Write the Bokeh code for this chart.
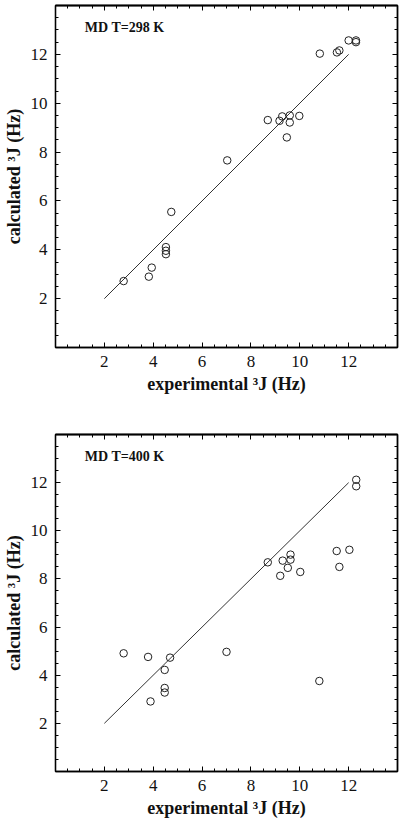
import numpy as np
from bokeh.plotting import figure
from bokeh.layouts import column
from bokeh.models import FixedTicker, LinearAxis, Label, Range1d
from bokeh.embed import file_html
from bokeh.resources import INLINE

# ---- data ----
exp_298 = [2.79, 3.82, 3.94, 4.52, 4.52, 4.52, 4.74, 7.03, 8.69, 9.17, 9.28,
           9.47, 9.59, 9.59, 9.98, 10.82, 11.52, 11.62, 12.0, 12.3, 12.3]
calc_298 = [2.72, 2.90, 3.27, 4.11, 3.96, 3.82, 5.55, 7.66, 9.31, 9.28, 9.46,
            8.60, 9.50, 9.21, 9.48, 12.03, 12.08, 12.16, 12.57, 12.57, 12.50]

exp_400 = [2.79, 3.79, 3.89, 4.47, 4.47, 4.47, 4.69, 7.0, 8.69, 9.20, 9.30,
           9.51, 9.62, 9.62, 10.02, 10.80, 11.51, 11.62, 12.03, 12.31, 12.31]
calc_400 = [4.91, 4.76, 2.91, 4.22, 3.47, 3.28, 4.73, 4.97, 8.69, 8.13, 8.76,
            8.46, 9.01, 8.80, 8.29, 3.76, 9.16, 8.50, 9.21, 12.12, 11.85]

line_x = [2, 12]
line_y = [2, 12]

major_ticks = [2, 4, 6, 8, 10, 12]
minor_ticks = [i * 0.5 for i in range(1, 28)]

titles = ["MD T=298 K", "MD T=400 K"]
xlabel = "experimental \u00b3J (Hz)"
ylabel = "calculated \u00b3J (Hz)"

FONT = "Liberation Serif"


def style_ticks(ax):
    ax.major_tick_in = 5
    ax.major_tick_out = 0
    ax.minor_tick_in = 3
    ax.minor_tick_out = 0
    ax.axis_line_color = "black"
    ax.axis_line_width = 1.3
    ax.major_tick_line_color = "black"
    ax.minor_tick_line_color = "black"
    ax.major_tick_line_width = 1
    ax.minor_tick_line_width = 1


def style_main_axis(ax):
    ax.ticker = FixedTicker(ticks=major_ticks, minor_ticks=minor_ticks)
    style_ticks(ax)
    ax.major_label_text_font = FONT
    ax.major_label_text_font_size = "17px"
    ax.major_label_text_color = "#111111"
    ax.major_label_standoff = 8
    ax.axis_label_text_font = FONT
    ax.axis_label_text_font_size = "18px"
    ax.axis_label_text_font_style = "bold"
    ax.axis_label_text_color = "#111111"
    ax.axis_label_standoff = 4


def mirror_axis(tick_list, length):
    # label-free axis: only minor-style ticks, no major ticks -> no labels
    ax = LinearAxis(ticker=FixedTicker(ticks=[], minor_ticks=tick_list))
    style_ticks(ax)
    ax.minor_tick_in = length
    ax.major_label_standoff = 0
    ax.axis_label_standoff = 0
    return ax


def make_panel(xs, ys, title, height, top, bottom):
    p = figure(width=408, height=height, output_backend="svg", toolbar_location=None,
               x_range=Range1d(0, 14), y_range=Range1d(0, 14),
               x_axis_label=xlabel, y_axis_label=ylabel,
               min_border_left=54, min_border_right=11,
               min_border_top=top, min_border_bottom=bottom)
    p.xgrid.visible = False
    p.ygrid.visible = False
    p.outline_line_color = "black"
    p.outline_line_width = 1.3
    p.background_fill_color = "white"
    p.border_fill_color = "white"
    for ax in p.xaxis + p.yaxis:
        style_main_axis(ax)
    p.add_layout(mirror_axis(minor_ticks, 3), "above")
    p.add_layout(mirror_axis(minor_ticks, 3), "right")
    p.add_layout(mirror_axis(major_ticks, 5), "above")
    p.add_layout(mirror_axis(major_ticks, 5), "right")

    p.line(line_x, line_y, line_color="#333333", line_width=1)
    p.scatter(xs, ys, marker="circle", size=7.5, fill_color=None,
              line_color="#222222", line_width=1)
    p.add_layout(Label(x=1.2, y=13.1, text=title, text_font=FONT,
                       text_font_size="14px", text_font_style="bold",
                       text_baseline="middle", text_color="#111111"))
    return p


p1 = make_panel(exp_298, calc_298, titles[0], 410, 5, 63)
p2 = make_panel(exp_400, calc_400, titles[1], 410, 24, 44)

layout = column(p1, p2, spacing=0)
open("out.html", "w").write(file_html(layout, INLINE))
